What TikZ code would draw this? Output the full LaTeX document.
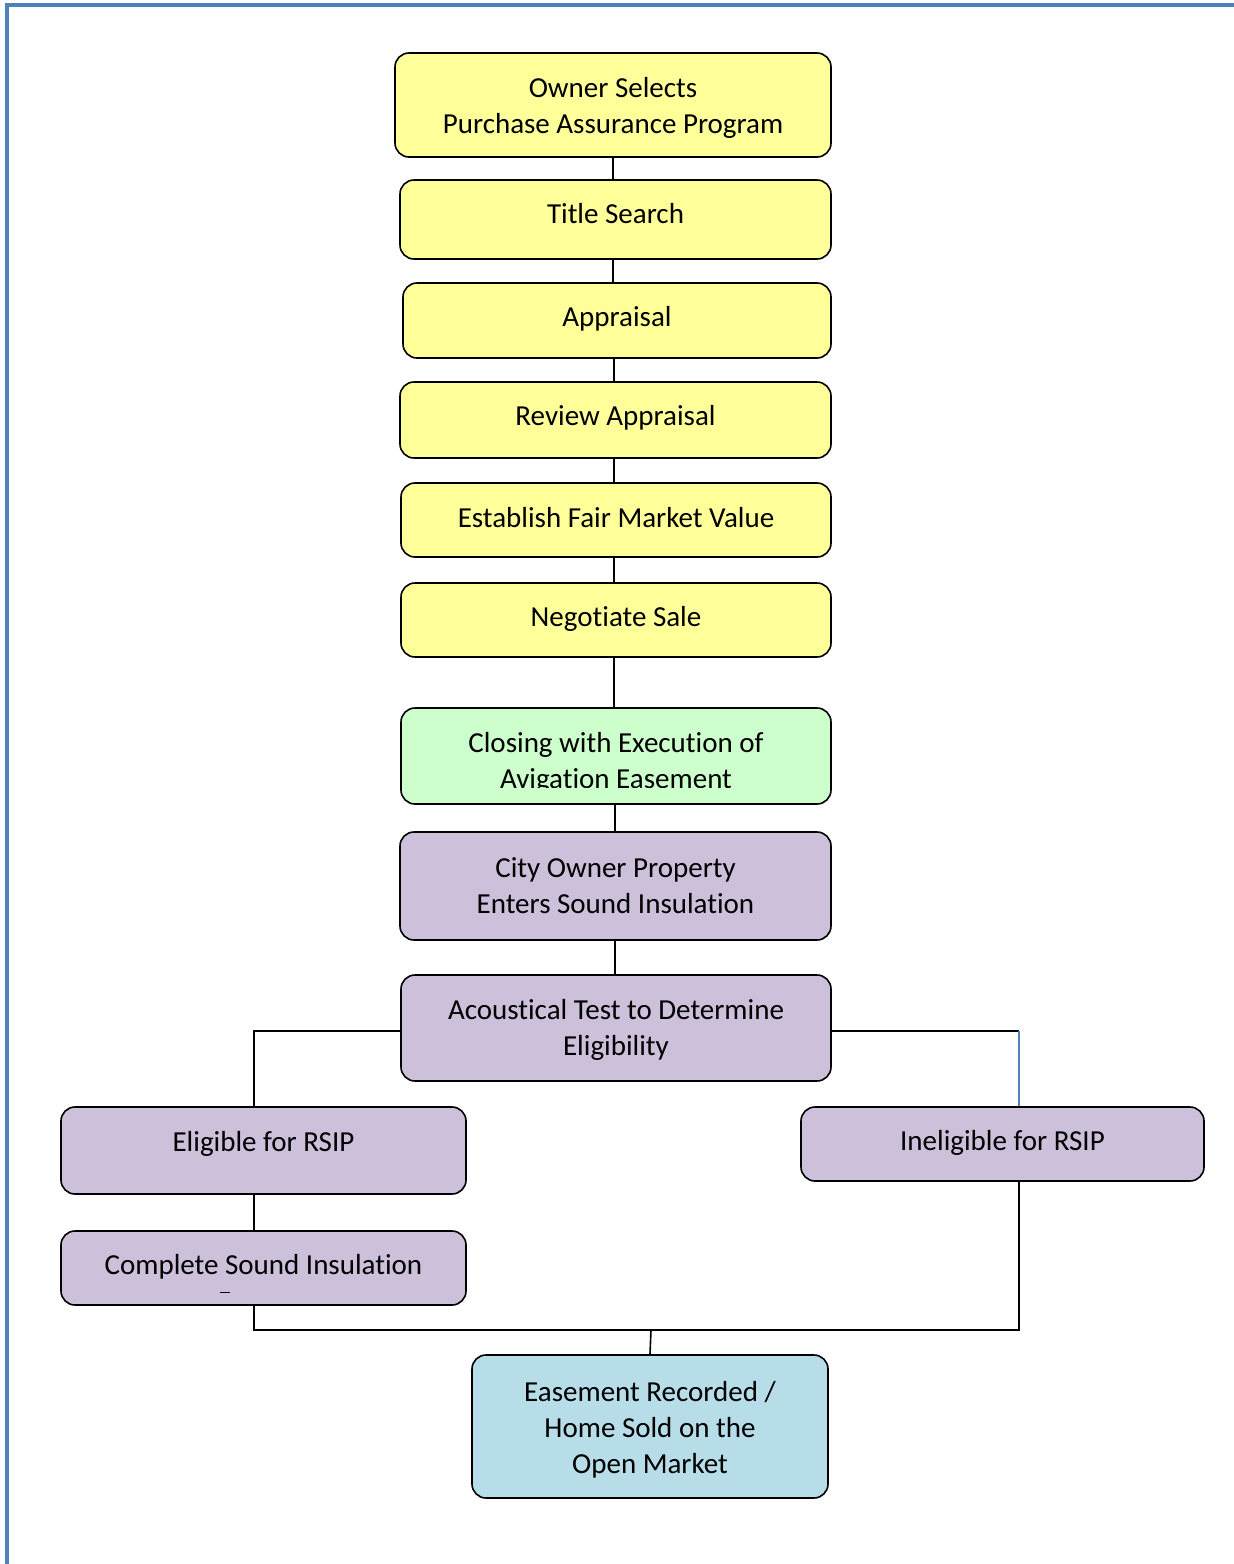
\documentclass[tikz,border=0pt]{standalone}
\usepackage{fontspec}
\setmainfont{Carlito}[Ligatures={NoCommon}]
\definecolor{frameblue}{HTML}{4F81BD}
\definecolor{yel}{HTML}{FFFF99}
\definecolor{grn}{HTML}{CCFFCC}
\definecolor{lav}{HTML}{CCC0DA}
\definecolor{cyanb}{HTML}{B7DDE8}
\tikzset{
  box/.style={draw=black, line width=1.6pt, rounded corners=14pt, inner sep=0pt},
  ybox/.style={box, fill=yel},
  gbox/.style={box, fill=grn},
  pbox/.style={box, fill=lav},
  bbox/.style={box, fill=cyanb},
  txt/.style={align=center, font=\fontsize{29}{36}\selectfont, inner sep=0pt, text=black},
  link/.style={draw=black, line width=1.6pt},
  bluelink/.style={draw=frameblue, line width=1.6pt}
}
\begin{document}
\begin{tikzpicture}[x=1pt,y=-1pt]
\useasboundingbox (0,0) rectangle (1234,1564);
\fill[white] (0,0) rectangle (1234,1564);
% frame
\draw[frameblue, line width=4pt] (7,1570) -- (7,5) -- (1240,5);

% boxes
\node[ybox, minimum width=436pt, minimum height=104pt] (n1) at (613,105) {};
\node[txt] (t1) at ([yshift=-3pt]n1.center) {Owner Selects\\Purchase Assurance Program};
\node[ybox, minimum width=431pt, minimum height=79pt] (n2) at (615.5,219.5) {};
\node[txt] (t2) at ([yshift=6pt]n2.center) {Title Search};
\node[ybox, minimum width=428pt, minimum height=75pt] (n3) at (617,320.5) {};
\node[txt] (t3) at ([yshift=2pt]n3.center) {Appraisal};
\node[ybox, minimum width=431pt, minimum height=76pt] (n4) at (615.5,420) {};
\node[txt] (t4) at ([yshift=2pt]n4.center) {Review Appraisal};
\node[ybox, minimum width=430pt, minimum height=74pt] (n5) at (616,520) {};
\node[txt] (t5) at ([yshift=2pt]n5.center) {Establish Fair Market Value};
\node[ybox, minimum width=430pt, minimum height=74pt] (n6) at (616,620) {};
\node[txt] (t6) at ([yshift=1pt]n6.center) {Negotiate Sale};
\node[gbox, minimum width=430pt, minimum height=96pt] (n7) at (616,756) {};
\node[txt] (t7) at ([yshift=-7pt]n7.center) {Closing with Execution of\\Avigation Easement};
\fill[grn] (440,788) rectangle (790,802);
\node[pbox, minimum width=431pt, minimum height=108pt] (n8) at (615.5,886) {};
\node[txt] (t8) at (n8.center) {City Owner Property\\Enters Sound Insulation};
\node[pbox, minimum width=430pt, minimum height=106pt] (n9) at (616,1028) {};
\node[txt] (t9) at ([yshift=-2pt]n9.center) {Acoustical Test to Determine\\Eligibility};
\node[pbox, minimum width=405pt, minimum height=87pt] (n10) at (263.5,1150.5) {};
\node[txt] (t10) at ([yshift=7pt]n10.center) {Eligible for RSIP};
\node[pbox, minimum width=403pt, minimum height=74pt] (n11) at (1002.5,1144) {};
\node[txt] (t11) at ([yshift=1pt]n11.center) {Ineligible for RSIP};
\node[pbox, minimum width=405pt, minimum height=74pt] (n12) at (263.5,1268) {};
\node[txt] (t12) at ([yshift=1pt]n12.center) {Complete Sound Insulation};
\draw[black, line width=1pt] (220,1292) -- (230,1292);
\node[bbox, minimum width=356pt, minimum height=143pt] (n13) at (650,1426.5) {};
\node[txt] (t13) at ([yshift=-3pt]n13.center) {Easement Recorded /\\Home Sold on the\\Open Market};

% vertical chain
\draw[link] (n1.south) -- (n1.south |- n2.north);
\draw[link] (n1.south |- n2.south) -- (n1.south |- n3.north);
\draw[link] ([xshift=1pt]n1.south |- n3.south) -- ([xshift=1pt]n1.south |- n4.north);
\draw[link] ([xshift=1pt]n1.south |- n4.south) -- ([xshift=1pt]n1.south |- n5.north);
\draw[link] ([xshift=1pt]n1.south |- n5.south) -- ([xshift=1pt]n1.south |- n6.north);
\draw[link] ([xshift=1pt]n1.south |- n6.south) -- ([xshift=1pt]n1.south |- n7.north);
\draw[link] ([xshift=2pt]n1.south |- n7.south) -- ([xshift=2pt]n1.south |- n8.north);
\draw[link] ([xshift=2pt]n1.south |- n8.south) -- ([xshift=2pt]n1.south |- n9.north);

% branches
\coordinate (lc) at (254,1031);
\coordinate (rc) at (1019,1031);
\draw[link] (n9.west |- lc) -- (lc) -- (lc |- n10.north);
\draw[link] (n9.east |- rc) -- (rc);
\draw[bluelink] (rc) -- (rc |- n11.north);
\draw[link] (lc |- n10.south) -- (lc |- n12.north);

% merge
\coordinate (jl) at (254,1330);
\coordinate (jr) at (1019,1330);
\coordinate (jm) at (651,1330);
\draw[link] (jl |- n12.south) -- (jl) -- (jr) -- (jr |- n11.south);
\draw[link] (jm) -- (n13.north);
\end{tikzpicture}
\end{document}
